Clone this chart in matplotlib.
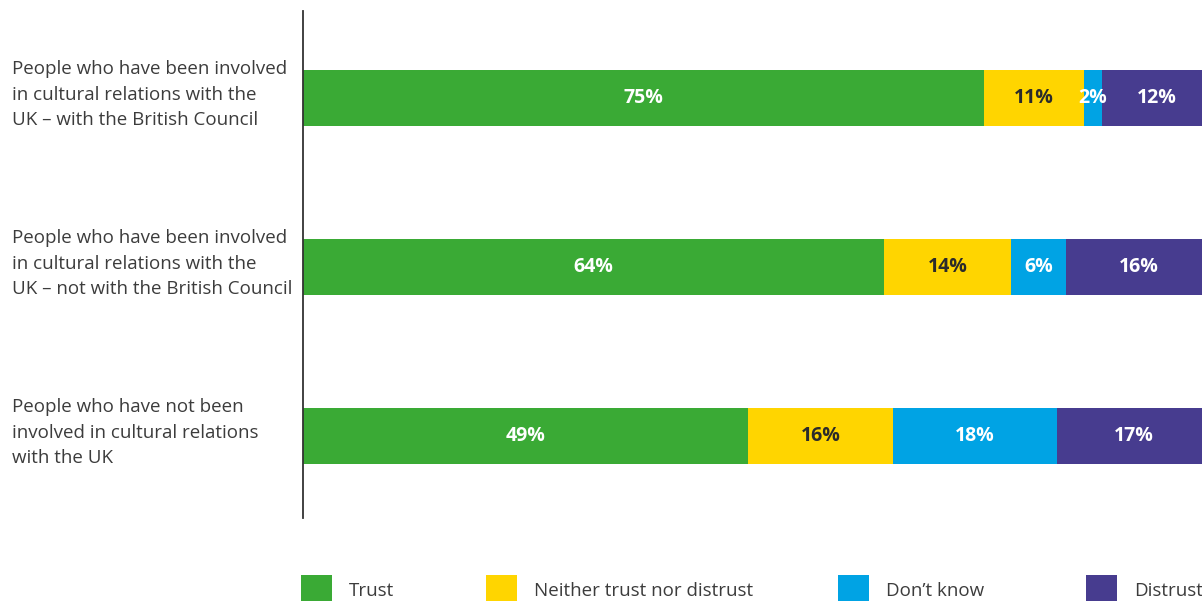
import matplotlib.pyplot as plt
import matplotlib.transforms as mtransforms
from matplotlib.patches import Rectangle

# Survey groups (top to bottom) and share of each response, in percent
groups = [
    'People who have been involved\nin cultural relations with the\nUK \u2013 with the British Council',
    'People who have been involved\nin cultural relations with the\nUK \u2013 not with the British Council',
    'People who have not been\ninvolved in cultural relations\nwith the UK',
]
responses = ['Trust', 'Neither trust nor distrust', "Don\u2019t know", 'Distrust']
trust = [75, 64, 49]
neither = [11, 14, 16]
dont_know = [2, 6, 18]
distrust = [12, 16, 17]

colors = ['#3aaa35', '#ffd500', '#00a3e4', '#473c8f']
label_colors = ['white', '#2b2b2b', 'white', 'white']
text_grey = '#3c3c3c'

plt.rcParams['font.family'] = ['Open Sans', 'DejaVu Sans']

fig = plt.figure(figsize=(12.02, 6.01), dpi=100)
W, H = 1202, 601
# the bars run a little past the right edge of the figure
ax = fig.add_axes([303 / W, (H - 518) / H, 908 / W, 507 / H])

series = [trust, neither, dont_know, distrust]
ypos = range(len(groups))
left = [0] * len(groups)
for vals, col, lcol in zip(series, colors, label_colors):
    bars = ax.barh(ypos, vals, left=left, height=0.331, color=col, linewidth=0)
    for b, v in zip(bars, vals):
        ax.text(b.get_x() + b.get_width() / 2, b.get_y() + b.get_height() / 2,
                f'{v}%', ha='center', va='center', color=lcol,
                fontsize=14, fontweight='bold')
    left = [l + v for l, v in zip(left, vals)]

ax.set_xlim(0, 100)
ax.set_ylim(2.485, -0.515)
for s in ['top', 'right', 'bottom']:
    ax.spines[s].set_visible(False)
ax.spines['left'].set_color('#333333')
ax.spines['left'].set_linewidth(1.3)
ax.set_xticks([])
ax.set_yticks([])

# group labels, left aligned at the figure edge
trans = mtransforms.blended_transform_factory(fig.transFigure, ax.transData)
for y, g in zip(ypos, groups):
    ax.text(12 / W, y - 0.02, g, transform=trans, ha='left', va='center',
            fontsize=13.5, color=text_grey, linespacing=1.55)

# legend row along the bottom
legend_x = [301, 486, 838, 1086]
for x, name, col in zip(legend_x, responses, colors):
    fig.patches.append(Rectangle((x / W, 0), 31 / W, 26 / H, transform=fig.transFigure,
                                 facecolor=col, edgecolor='none'))
    fig.text((x + 48) / W, (H - 591) / H, name, ha='left', va='center',
             fontsize=13.5, color=text_grey)

fig.savefig('out.png', dpi=100)
